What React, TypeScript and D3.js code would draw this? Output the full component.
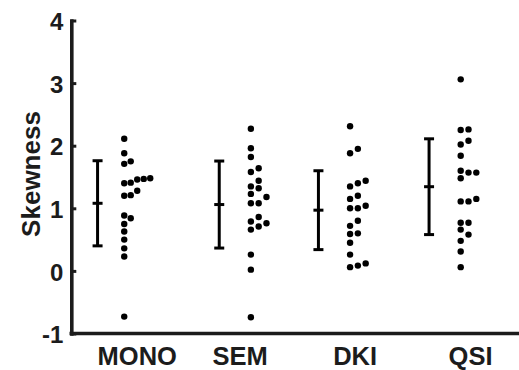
import React, { useEffect, useRef } from "react";
import * as d3 from "d3";

// groups along the x axis
const categories = ["MONO", "SEM", "DKI", "QSI"];

// skewness per subject
const monoValues = [2.11, 1.88, 1.75, 1.71, 1.48, 1.47, 1.46, 1.41, 1.4, 1.28, 1.21, 1.2, 0.885, 0.84, 0.75, 0.63, 0.5, 0.36, 0.23, -0.73];
const semValues = [2.27, 1.96, 1.82, 1.64, 1.58, 1.44, 1.35, 1.32, 1.23, 1.18, 1.08, 1.08, 0.86, 0.79, 0.76, 0.71, 0.66, 0.26, 0.02, -0.74];
const dkiValues = [2.31, 1.95, 1.88, 1.44, 1.4, 1.35, 1.2, 1.15, 1.04, 1.0, 1.0, 0.8, 0.72, 0.6, 0.59, 0.45, 0.26, 0.12, 0.085, 0.06];
const qsiValues = [3.06, 2.26, 2.25, 2.08, 2.02, 1.84, 1.6, 1.57, 1.57, 1.48, 1.15, 1.11, 1.11, 0.77, 0.77, 0.66, 0.58, 0.48, 0.31, 0.06];

// mean +- sd bars
const groupMeans = [1.08, 1.06, 0.97, 1.345];
const groupSd = [0.68, 0.695, 0.63, 0.765];

// positions along the x axis (axis units)
const errorBarPos = [0.264, 1.487, 2.484, 3.596];
const dotPos = [0.532, 1.805, 2.802, 3.914];
const labelPos = [0.663, 1.697, 2.853, 4.013];

const yTicks = [-1, 0, 1, 2, 3, 4];

const W = 519;
const H = 370;
const INK = "#1c1c1c";
const FONT = "'Liberation Sans', Arial, Helvetica, sans-serif";

const App = () => {
  const svgRef = useRef(null);

  useEffect(() => {
    const svg = d3.select(svgRef.current);
    svg.selectAll("*").remove();

    const xScale = d3.scaleLinear().domain([0, 4.5]).range([71.3, 519]);
    const yScale = d3.scaleLinear().domain([-1, 4]).range([333.5, 20.5]);

    // y axis: ticks point inward, labels outside
    const yAxis = d3
      .axisLeft(yScale)
      .tickValues(yTicks)
      .tickSizeInner(-5)
      .tickSizeOuter(0)
      .tickPadding(8)
      .tickFormat((d) => String(d));

    const gy = svg
      .append("g")
      .attr("transform", `translate(${xScale(0)},0)`)
      .call(yAxis);
    gy.select(".domain")
      .attr("stroke", INK)
      .attr("stroke-width", 3.6)
      .attr("stroke-linecap", "square");
    gy.selectAll(".tick line").attr("stroke", INK).attr("stroke-width", 3);
    gy.selectAll(".tick text")
      .attr("fill", INK)
      .attr("font-family", FONT)
      .attr("font-weight", "bold")
      .attr("font-size", 24)
      .attr("dy", "0.38em");

    // x axis line, no ticks
    svg
      .append("line")
      .attr("x1", xScale(0))
      .attr("x2", xScale(4.5))
      .attr("y1", yScale(-1))
      .attr("y2", yScale(-1))
      .attr("stroke", INK)
      .attr("stroke-width", 3.6)
      .attr("stroke-linecap", "square");

    // category labels
    svg
      .selectAll(".cat")
      .data(categories)
      .join("text")
      .attr("class", "cat")
      .attr("x", (d, i) => xScale(labelPos[i]))
      .attr("y", 364.5)
      .attr("text-anchor", "middle")
      .attr("fill", INK)
      .attr("font-family", FONT)
      .attr("font-weight", "bold")
      .attr("font-size", 25.5)
      .text((d) => d);

    // y label
    svg
      .append("text")
      .attr("transform", `translate(40,${(yScale(2) + yScale(1)) / 2 - 3}) rotate(-90)`)
      .attr("text-anchor", "middle")
      .attr("fill", INK)
      .attr("font-family", FONT)
      .attr("font-weight", "bold")
      .attr("font-size", 26)
      .text("Skewness");

    // error bars
    const capHalf = 5;
    categories.forEach((c, i) => {
      const cx = xScale(errorBarPos[i]);
      const top = yScale(groupMeans[i] + groupSd[i]);
      const mid = yScale(groupMeans[i]);
      const bot = yScale(groupMeans[i] - groupSd[i]);
      const g = svg.append("g").attr("stroke", "#000").attr("stroke-width", 3);
      g.append("line").attr("x1", cx).attr("x2", cx).attr("y1", top).attr("y2", bot);
      [top, mid, bot].forEach((y) => {
        g.append("line")
          .attr("x1", cx - capHalf)
          .attr("x2", cx + capHalf)
          .attr("y1", y)
          .attr("y2", y);
      });
    });

    // beeswarm dots: lowest free column, going up from the smallest value
    const allValues = [monoValues, semValues, dkiValues, qsiValues];
    const minDist = 6.6;
    const colStep = 7.8;
    const maxWidth = 26;

    allValues.forEach((vals, gi) => {
      const sorted = [...vals].sort((a, b) => a - b);
      const cols = [];
      const placed = sorted.map((v) => {
        const y = yScale(v);
        let k = 0;
        while (cols[k] && cols[k].some((yy) => Math.abs(yy - y) < minDist)) k++;
        if (!cols[k]) cols[k] = [];
        cols[k].push(y);
        return { y, k };
      });
      const step = cols.length > 1 ? Math.min(colStep, maxWidth / (cols.length - 1)) : colStep;
      const x0 = xScale(dotPos[gi]);

      svg
        .append("g")
        .selectAll("circle")
        .data(placed)
        .join("circle")
        .attr("cx", (d) => x0 + d.k * step)
        .attr("cy", (d) => d.y)
        .attr("r", 3.2)
        .attr("fill", "#000");
    });
  }, []);

  return (
    <svg
      ref={svgRef}
      width={W}
      height={H}
      style={{ position: "absolute", left: 0, top: 0, background: "#fff" }}
    ></svg>
  );
};

export default App;
